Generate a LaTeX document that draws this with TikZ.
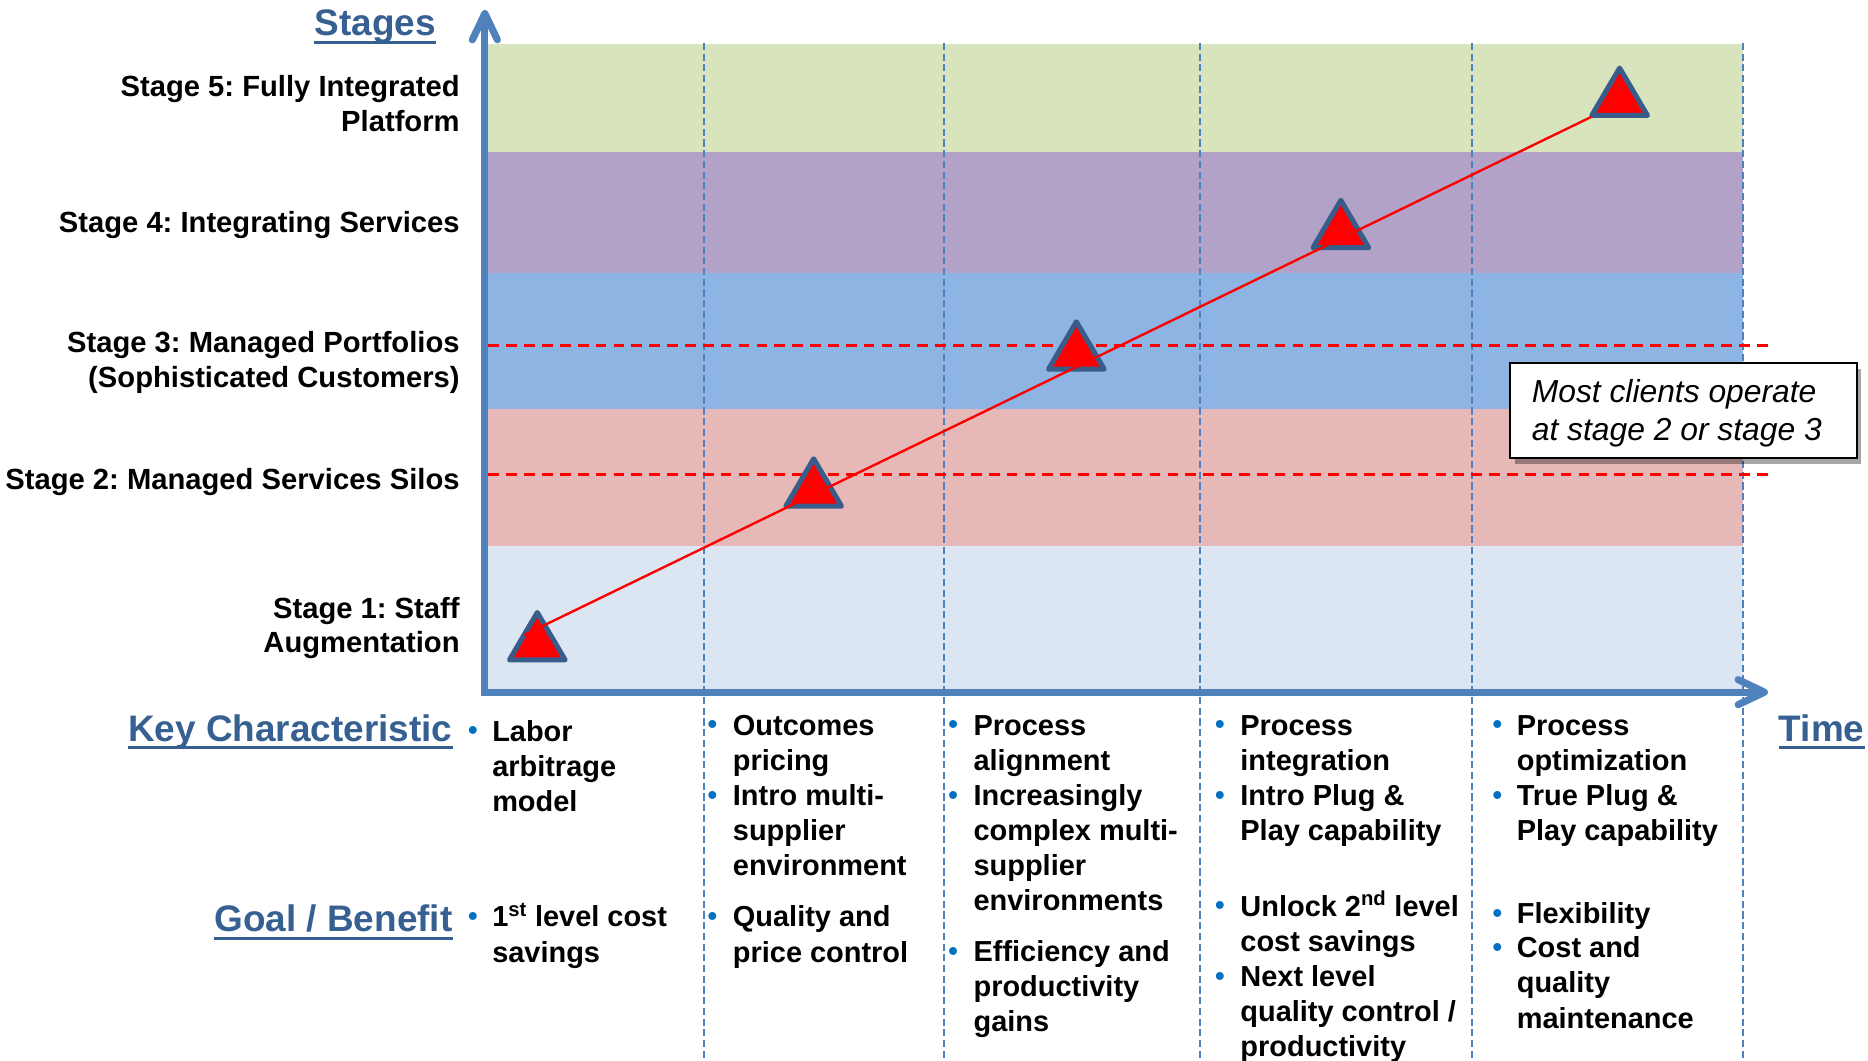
\documentclass[tikz,border=0pt]{standalone}
\usepackage{fontspec}
\setmainfont{Liberation Sans}
\frenchspacing
\usetikzlibrary{arrows.meta,shadows}
\definecolor{axisblue}{HTML}{4F81BD}
\definecolor{headblue}{HTML}{376092}
\definecolor{bulblue}{HTML}{0070C0}
\definecolor{triedge}{HTML}{385D8A}
\definecolor{bandA}{HTML}{D7E4BD}
\definecolor{bandB}{HTML}{B3A2C7}
\definecolor{bandC}{HTML}{8EB4E3}
\definecolor{bandD}{HTML}{E6B9B8}
\definecolor{bandE}{HTML}{DCE6F2}
\begin{document}
\begin{tikzpicture}[x=1pt,y=-1pt,
  stagelbl/.style={anchor=base east, align=right, inner sep=0pt, font=\bfseries\fontsize{24.5}{29}\selectfont},
  headlbl/.style={inner sep=0pt, text=headblue, font=\bfseries\fontsize{31}{36}\selectfont},
  uline/.style={draw=headblue, line width=2.3pt},
  itemtxt/.style={anchor=base west, align=left, inner sep=0pt, font=\bfseries\fontsize{24.3}{29.5}\selectfont},
  bul/.style={anchor=base, inner sep=0pt, text=bulblue, font=\bfseries\fontsize{23}{23}\selectfont},
  coldash/.style={draw=axisblue, line width=1.7pt, dash pattern=on 6pt off 3pt},
  reddash/.style={draw=red, line width=2.4pt, dash pattern=on 9pt off 6pt},
  axisline/.style={draw=axisblue, line width=6pt, line join=miter,
     {Straight Barb[length=22pt,width=21pt,round]}-{Straight Barb[length=22pt,width=21pt,round]}},
  tri/.style={fill=red, draw=triedge, line width=4.2pt, line join=round},
  notebox/.style={draw=black, line width=1.6pt, fill=white, minimum width=291pt, minimum height=80pt, inner sep=0pt,
     drop shadow={shadow xshift=4pt, shadow yshift=-5pt, fill=black, opacity=0.35}},
  notetxt/.style={anchor=base west, align=left, inner sep=0pt, font=\itshape\fontsize{26.7}{31.7}\selectfont}
]
\useasboundingbox (0,0) rectangle (1568,890.6);
% bands
\fill[bandA] (410,37) rectangle (1463,127.6);
\fill[bandB] (410,127.6) rectangle (1463,229.3);
\fill[bandC] (410,229.3) rectangle (1463,343.7);
\fill[bandD] (410,343.7) rectangle (1463,458.6);
\fill[bandE] (410,458.6) rectangle (1463,581);
% column separators
\foreach \cx in {591,792,1007,1235.5,1463}
  \draw[coldash] (\cx,36) -- (\cx,890.6);
% stage 2 / stage 3 markers
\draw[reddash] (410,290) -- (1486,290);
\draw[reddash] (410,398) -- (1486,398);
% axes
\draw[axisline] (407,8.4) -- (407,581) -- (1484,581);
% triangles (apex x, outer top y)
\foreach \tx/\ty in {451/512, 683/383, 903.5/268, 1125.5/166, 1359.5/55}
  \draw[tri] (\tx,\ty+2.1) -- (\tx+23.4,\ty+41.9) -- (\tx-23.4,\ty+41.9) -- cycle;
% progression line
\coordinate (ls) at (440,533);
\coordinate (le) at (1336,98);
\draw[red, line width=2pt] (ls) -- (le);
% callout
\node[notebox] (note) at (1413,344.4) {};
\node[notetxt] (notetext) at (1285.6,369.7) {Most clients operate\\at stage 2 or stage 3};
% stage labels (base = last line)
\node[stagelbl] (s5) at (386,110) {Stage 5: Fully Integrated\\Platform};
\node[stagelbl] (s4) at (386,195) {Stage 4: Integrating Services};
\node[stagelbl] (s3) at (386,325) {Stage 3: Managed Portfolios\\(Sophisticated Customers)};
\node[stagelbl] (s2) at (386,411) {Stage 2: Managed Services Silos};
\node[stagelbl] (s1) at (386,548) {Stage 1: Staff\\Augmentation};
% headings
\node[headlbl, anchor=base east] (hst) at (366,30) {Stages};
\draw[uline] ([yshift=-5.8pt]hst.base west) -- ([yshift=-5.8pt]hst.base east);
\node[headlbl, anchor=base east] (hkc) at (380,622) {Key Characteristic};
\draw[uline] ([yshift=-5.5pt]hkc.base west) -- ([yshift=-5.5pt]hkc.base east);
\node[headlbl, anchor=base east] (hgb) at (380,782) {Goal / Benefit};
\draw[uline] ([yshift=-5.5pt]hgb.base west) -- ([yshift=-5.5pt]hgb.base east);
\node[headlbl, anchor=base west] (htm) at (1493,622) {Time};
\draw[uline] ([yshift=-5.5pt]htm.base west) -- ([yshift=-5.5pt]htm.base east);
% column 1 (text node base = last line)
\node[bul] (b11) at (397,621) {•};
\node[itemtxt] (i11) at (413,681) {Labor\\arbitrage\\model};
\node[bul] (b12) at (397,777) {•};
\node[itemtxt] (i12) at (413,807.5) {1\textsuperscript{st} level cost\\savings};
% column 2
\node[bul] (b21) at (598,616) {•};
\node[itemtxt] (i21) at (615,646.5) {Outcomes\\pricing};
\node[bul] (b22) at (598,675) {•};
\node[itemtxt] (i22) at (615,735) {Intro multi-\\supplier\\environment};
\node[bul] (b23) at (598,777) {•};
\node[itemtxt] (i23) at (615,807.5) {Quality and\\price control};
% column 3
\node[bul] (b31) at (800,616) {•};
\node[itemtxt] (i31) at (817,646.5) {Process\\alignment};
\node[bul] (b32) at (800,675) {•};
\node[itemtxt] (i32) at (817,764.5) {Increasingly\\complex multi-\\supplier\\environments};
\node[bul] (b33) at (800,806) {•};
\node[itemtxt] (i33) at (817,866) {Efficiency and\\productivity\\gains};
% column 4
\node[bul] (b41) at (1024,616) {•};
\node[itemtxt] (i41) at (1041,646.5) {Process\\integration};
\node[bul] (b42) at (1024,675) {•};
\node[itemtxt] (i42) at (1041,705.5) {Intro Plug \&\\Play capability};
\node[bul] (b43) at (1024,768) {•};
\node[itemtxt] (i43) at (1041,798.5) {Unlock 2\textsuperscript{nd} level\\cost savings};
\node[bul] (b44) at (1024,827) {•};
\node[itemtxt] (i44) at (1041,887) {Next level\\quality control /\\productivity};
% column 5
\node[bul] (b51) at (1257,616) {•};
\node[itemtxt] (i51) at (1273,646.5) {Process\\optimization};
\node[bul] (b52) at (1257,675) {•};
\node[itemtxt] (i52) at (1273,705.5) {True Plug \&\\Play capability};
\node[bul] (b53) at (1257,774) {•};
\node[itemtxt] (i53) at (1273,775) {Flexibility};
\node[bul] (b54) at (1257,803) {•};
\node[itemtxt] (i54) at (1273,863) {Cost and\\quality\\maintenance};
\end{tikzpicture}
\end{document}
